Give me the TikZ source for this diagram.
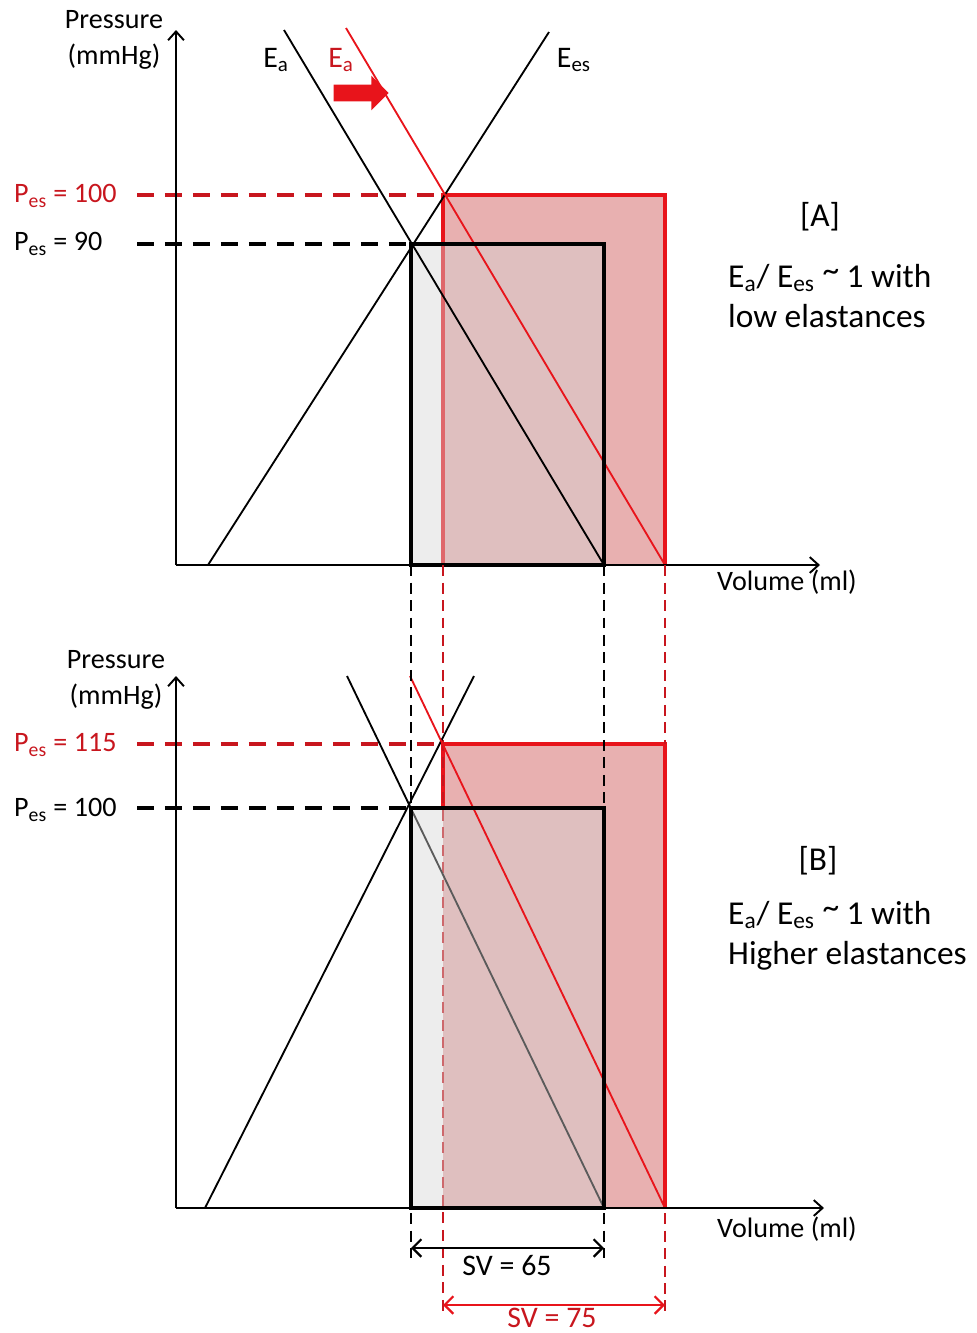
\documentclass[tikz,border=0pt]{standalone}
\usepackage{fontspec}
\setmainfont{Carlito}
\usepackage{xcolor}
\usetikzlibrary{arrows.meta,positioning,shapes.arrows}
\definecolor{cred}{HTML}{E8141B}
\definecolor{ctred}{HTML}{C8161E}
\definecolor{cpink}{HTML}{E8B0B0}
\definecolor{cshade}{HTML}{D5D5D5}
\tikzset{
  paxis/.style={line width=1.1pt,-{Straight Barb[length=5pt,width=9pt,line width=1.1pt]}},
  elast/.style={line width=1.05pt},
  hguide/.style={dash pattern=on 0.34cm off 0.22cm,line width=2pt},
  vguide/.style={dash pattern=on 0.22cm off 0.13cm,line width=1.3pt},
  pvbox/.style={line width=2pt},
  shade/.style={fill=cshade,fill opacity=0.43},
  svarr/.style={line width=1.3pt,{Straight Barb[length=5pt,width=10pt,line width=1.3pt]}-{Straight Barb[length=5pt,width=10pt,line width=1.3pt]}},
  lab/.style={font=\fontsize{16}{20.4}\selectfont},
  elab/.style={font=\fontsize{17}{20}\selectfont},
  big/.style={font=\fontsize{19}{23}\selectfont},
}
\newcommand{\aprx}{\raisebox{0.35ex}{\textasciitilde}}

\begin{document}
\begin{tikzpicture}[x=0.02cm,y=-0.02cm]
\useasboundingbox (0,0) rectangle (977,1333);

% ================= TOP: [A] low elastances =================
\coordinate (oA) at (176,565);
\coordinate (yA) at (176,30);
\coordinate (xA) at (820,565);
\coordinate (bA) at (411,244);   % black Ea x Ees
\coordinate (rA) at (443,195);   % red Ea x Ees
\coordinate (bAr) at (604,565);
\coordinate (rAr) at (665,565);
\coordinate (bAt) at (604,244);
\coordinate (rAt) at (665,195);
\coordinate (rAb) at (443,565);
\coordinate (bAb) at (411,565);

\fill[cpink] (rA) rectangle (rAr);
\draw[cred,pvbox] (rAb) -- (rA) -- (rAt) -- (rAr);
\fill[shade] (bA) rectangle (bAr);
\draw[elast] (208,565) -- (549,32);
\draw[elast] (284,30) -- (bAr);
\draw[elast,cred] (346,28) -- (rAr);
\draw[pvbox] (bA) rectangle (bAr);

\draw[hguide,ctred] (137,195) -- (rA);
\draw[hguide] (137,244) -- (bA);
\draw[paxis] (oA) -- (yA);
\draw[paxis] (oA) -- (xA);

\node[lab,align=center] (pA) at (114,40) {Pressure\\(mmHg)};
\node[lab] (vA) at (787,582) {Volume (ml)};
\node[lab,text=ctred,anchor=west] (lrA) at (8,196) {P\textsubscript{es} = 100};
\node[lab,anchor=west] (lbA) at (8,244) {P\textsubscript{es} = 90};
\node[elab] (eaA) at (276,60) {E\textsubscript{a}};
\node[elab,text=ctred] (erA) at (341,60) {E\textsubscript{a}};
\node[elab] (eeA) at (574,60) {E\textsubscript{es}};
\node[single arrow,fill=cred,inner xsep=0pt,inner ysep=0.16cm,minimum height=1.1cm,
      single arrow head extend=0.18cm] (shift) at (357,93) {};
\node[big] (tA) at (820,217) {[A]};
\node[big,align=left,anchor=north west] (cA) at (722,258) {E\textsubscript{a}/ E\textsubscript{es} \aprx{} 1 with\\low elastances};

% ================= BOTTOM: [B] higher elastances =================
\coordinate (oB) at (176,1208);
\coordinate (yB) at (176,676);
\coordinate (xB) at (824,1208);
\coordinate (bB) at (411,808);
\coordinate (rB) at (443,744);
\coordinate (bBr) at (604,1208);
\coordinate (rBr) at (665,1208);
\coordinate (bBt) at (604,808);
\coordinate (rBt) at (665,744);
\coordinate (rBm) at (443,808);

\fill[cpink] (rB) rectangle (rBr);
\draw[cred,pvbox] (rBm) -- (rB) -- (rBt) -- (rBr);
\draw[vguide,ctred] (rAb) -- (443,1312);
\draw[elast] (347,676) -- (bBr);
\fill[shade] (bB) rectangle (bBr);
\draw[elast] (205,1208) -- (474,676);
\draw[elast,cred] (410,676) -- (rBr);
\draw[pvbox] (bB) rectangle (bBr);

\draw[hguide,ctred] (137,744) -- (rB);
\draw[hguide] (137,808) -- (bB);
\draw[paxis] (oB) -- (yB);
\draw[paxis] (oB) -- (xB);

% links between the two panels
\draw[vguide] (bAb) -- (bB);
\draw[vguide] (bAr) -- (bBt);
\draw[vguide,ctred] (rAr) -- (rBt);
\draw[vguide] (411,1213) -- (411,1258);
\draw[vguide] (604,1213) -- (604,1258);
\draw[vguide,ctred] (665,1213) -- (665,1312);

\coordinate (sv1l) at (411,1248);
\coordinate (sv1r) at (604,1248);
\coordinate (sv2l) at (443,1305);
\coordinate (sv2r) at (665,1305);
\draw[svarr] (sv1l) -- (sv1r);
\draw[svarr,cred] (sv2l) -- (sv2r);

\node[lab,align=center] (pB) at (116,680) {Pressure\\(mmHg)};
\node[lab] (vB) at (787,1229) {Volume (ml)};
\node[lab,text=ctred,anchor=west] (lrB) at (8,745) {P\textsubscript{es} = 115};
\node[lab,anchor=west] (lbB) at (8,810) {P\textsubscript{es} = 100};
\node[elab] (s65) at (507,1266) {SV = 65};
\node[elab,text=ctred] (s75) at (552,1318) {SV = 75};
\node[big] (tB) at (818,861) {[B]};
\node[big,align=left,anchor=north west] (cB) at (722,895) {E\textsubscript{a}/ E\textsubscript{es} \aprx{} 1 with\\Higher elastances};

\end{tikzpicture}
\end{document}
